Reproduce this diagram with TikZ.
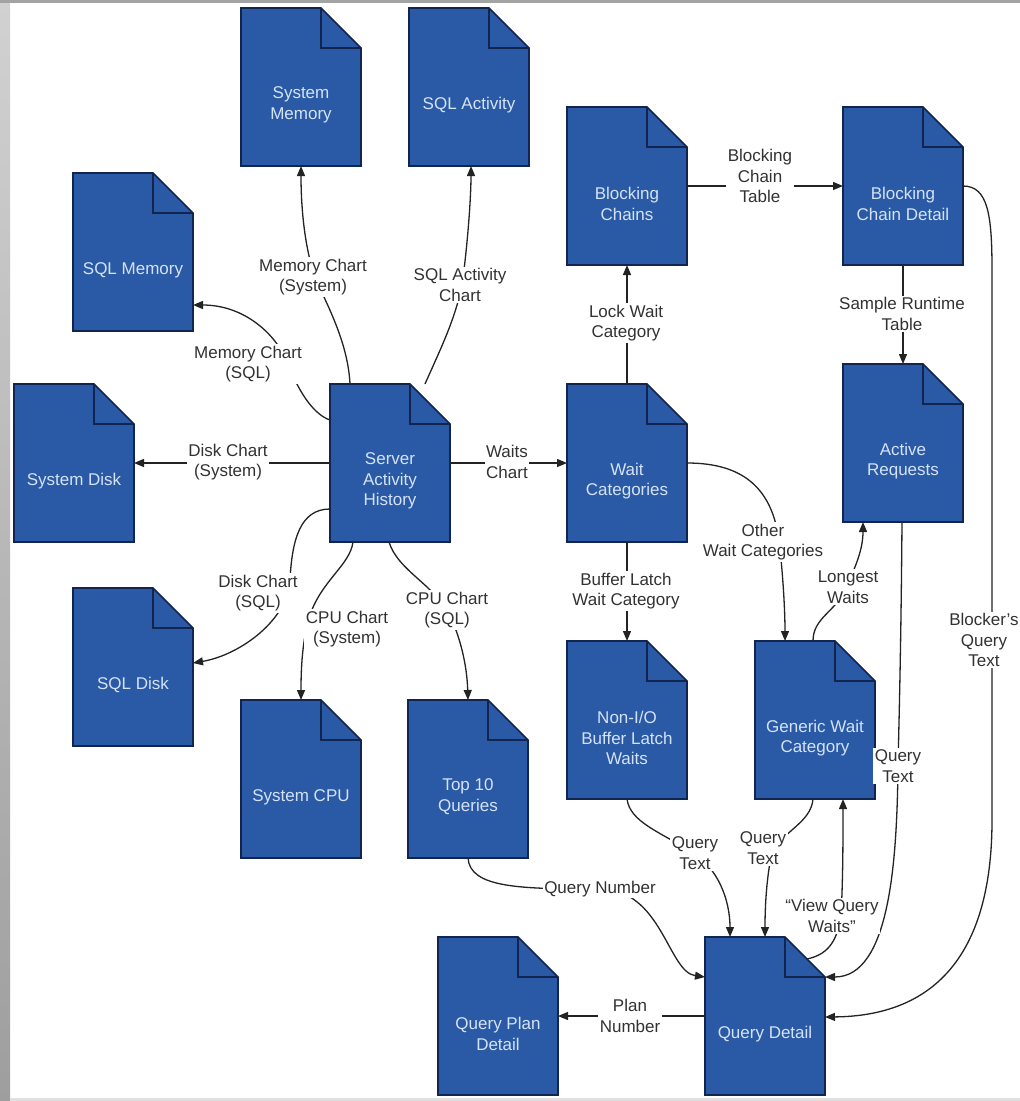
\documentclass[tikz,border=0pt]{standalone}
\usepackage{fontspec}
\setmainfont{Liberation Sans}
\usetikzlibrary{arrows.meta,backgrounds}
\definecolor{docblue}{RGB}{42,90,165}
\definecolor{docline}{RGB}{18,36,80}
\definecolor{doctxt}{RGB}{212,226,246}
\definecolor{lbltxt}{RGB}{50,50,50}
\definecolor{connc}{RGB}{35,35,35}
\tikzset{
  docbox/.style={rectangle, minimum width=120pt, minimum height=158pt, inner sep=0pt, outer sep=0pt},
  doctext/.style={text=doctxt, align=center, font=\fontsize{17}{20.7}\selectfont, inner sep=0pt},
  lbl/.style={fill=white, align=center, text=lbltxt, font=\fontsize{17}{20.7}\selectfont, inner sep=1.5pt},
  conn/.style={draw=connc, line width=1.3pt, -{Triangle[length=10pt,width=8pt]}},
}
\begin{document}
\begin{tikzpicture}[x=1pt,y=-1pt]
\useasboundingbox (0,0) rectangle (1020,1101);

% documents (centre = left+60, top+79)
\node[docbox] (sm)   at (301,87)   {};
\node[docbox] (sqa)  at (469,87)   {};
\node[docbox] (bc)   at (627,186)  {};
\node[docbox] (bcd)  at (903,186)  {};
\node[docbox] (sqm)  at (133,252)  {};
\node[docbox] (sd)   at (74,463)   {};
\node[docbox] (sah)  at (390,463)  {};
\node[docbox] (wc)   at (627,463)  {};
\node[docbox] (ar)   at (903,443)  {};
\node[docbox] (sqd)  at (133,667)  {};
\node[docbox] (nio)  at (627,720)  {};
\node[docbox] (gwc)  at (815,720)  {};
\node[docbox] (scpu) at (301,779)  {};
\node[docbox] (t10)  at (468,779)  {};
\node[docbox] (qd)   at (765,1016) {};
\node[docbox] (qpd)  at (498,1016) {};

\begin{scope}[on background layer]
  \fill[white] (0,0) rectangle (1020,1101);
  \shade[top color=black!18, bottom color=black!38] (0,0) rectangle (10,1101);
  \fill[black!36] (0,0) rectangle (1020,3);
  \fill[black!12] (10,1098) rectangle (1020,1101);
  \foreach \n in {sm,sqa,bc,bcd,sqm,sd,sah,wc,ar,sqd,nio,gwc,scpu,t10,qd,qpd}{
    \filldraw[fill=docblue, draw=docline, line width=1.6pt, line join=miter]
      (\n.north west) -- ([xshift=-40pt]\n.north east) -- ([yshift=-40pt]\n.north east)
      -- (\n.south east) -- (\n.south west) -- cycle;
    \draw[docline, line width=1.6pt]
      ([xshift=-40pt]\n.north east) -- ([xshift=-40pt,yshift=-40pt]\n.north east)
      -- ([yshift=-40pt]\n.north east);
  }
\end{scope}

% document texts
\node[doctext] (sm-t)   at ([shift={(0,18)}]sm.center)   {System\\Memory};
\node[doctext] (sqa-t)  at ([shift={(0,18)}]sqa.center)  {SQL Activity};
\node[doctext] (bc-t)   at ([shift={(0,18)}]bc.center)   {Blocking\\Chains};
\node[doctext] (bcd-t)  at ([shift={(0,18)}]bcd.center)  {Blocking\\Chain Detail};
\node[doctext] (sqm-t)  at ([shift={(0,18)}]sqm.center)  {SQL Memory};
\node[doctext] (sd-t)   at ([shift={(0,18)}]sd.center)   {System Disk};
\node[doctext] (sah-t)  at ([shift={(0,18)}]sah.center)  {Server\\Activity\\History};
\node[doctext] (wc-t)   at ([shift={(0,18)}]wc.center)   {Wait\\Categories};
\node[doctext] (ar-t)   at ([shift={(0,18)}]ar.center)   {Active\\Requests};
\node[doctext] (sqd-t)  at ([shift={(0,18)}]sqd.center)  {SQL Disk};
\node[doctext] (nio-t)  at ([shift={(0,18)}]nio.center)  {Non-I/O\\Buffer Latch\\Waits};
\node[doctext] (gwc-t)  at ([shift={(0,18)}]gwc.center)  {Generic Wait\\Category};
\node[doctext] (scpu-t) at ([shift={(0,18)}]scpu.center) {System CPU};
\node[doctext] (t10-t)  at ([shift={(0,18)}]t10.center)  {Top 10\\Queries};
\node[doctext] (qd-t)   at ([shift={(0,18)}]qd.center)   {Query Detail};
\node[doctext] (qpd-t)  at ([shift={(0,18)}]qpd.center)  {Query Plan\\Detail};

% connectors
\draw[conn] ([shift={(20,0)}]sah.north west) .. controls (348,345) and (330,310) .. (316,280) .. controls (305,250) and (301,210) .. (sm.south);
\draw[conn] ([shift={(0,36)}]sah.north west) .. controls (315,415) and (300,395) .. (288,364) .. controls (277,335) and (245,305) .. ([shift={(0,132)}]sqm.north east);
\draw[conn] ([shift={(95,0)}]sah.north west) .. controls (440,350) and (455,320) .. (462,285) .. controls (467,250) and (471,200) .. ([shift={(62,0)}]sqa.south west);
\draw[conn] (sah.west) -- (sd.east);
\draw[conn] ([shift={(0,125)}]sah.north west) .. controls (300,509) and (292,540) .. (290,580) .. controls (288,620) and (240,655) .. ([shift={(0,75)}]sqd.north east);
\draw[conn] ([shift={(23,0)}]sah.south west) .. controls (350,565) and (322,580) .. (310,615) .. controls (302,640) and (301,670) .. (scpu.north);
\draw[conn] ([shift={(59,0)}]sah.south west) .. controls (398,570) and (430,582) .. (448,612) .. controls (460,635) and (467,665) .. ([shift={(60,0)}]t10.north west);
\draw[conn] (sah.east) -- (wc.west);
\draw[conn] (wc.north) -- (bc.south);
\draw[conn] (bc.east) -- (bcd.west);
\draw[conn] (bcd.south) -- (ar.north);
\draw[conn] (wc.south) -- (nio.north);
\draw[conn] (wc.east) .. controls (745,463) and (772,490) .. (779,540) .. controls (783,575) and (785,610) .. ([shift={(30,0)}]gwc.north west);
\draw[conn] ([shift={(58,0)}]gwc.north west) .. controls (813,618) and (835,612) .. (845,590) .. controls (855,568) and (863,550) .. ([shift={(20,0)}]ar.south west);
\draw[conn] (nio.south) .. controls (630,822) and (660,832) .. (692,852) .. controls (718,868) and (730,900) .. ([shift={(25,0)}]qd.north west);
\draw[conn] ([shift={(58,0)}]gwc.south west) .. controls (811,822) and (785,830) .. (772,852) .. controls (766,880) and (765,910) .. ([shift={(60,0)}]qd.north west);
\draw[conn] ([shift={(-18,22)}]qd.north east) .. controls (825,955) and (837,945) .. (841,915) .. controls (843,880) and (843,840) .. ([shift={(88,0)}]gwc.south west);
\draw[conn] ([shift={(59,0)}]ar.south west) .. controls (901,650) and (899,720) .. (898,766) .. controls (897,860) and (890,977) .. ([shift={(0,40)}]qd.north east);
\draw[conn] (bcd.east) .. controls (988,186) and (992,215) .. (992,270) -- (992,820) .. controls (992,960) and (930,1016) .. ([shift={(0,80)}]qd.north east);
\draw[conn] (t10.south) .. controls (470,888) and (520,889) .. (600,889) .. controls (662,889) and (668,972) .. ([shift={(0,40)}]qd.north west);
\draw[conn] (qd.west) -- (qpd.east);

% connector labels
\node[lbl] (l1)  at (313,277)  {Memory Chart\\(System)};
\node[lbl] (l2)  at (248,364)  {Memory Chart\\(SQL)};
\node[lbl] (l3)  at (460,285)  {SQL Activity\\Chart};
\node[lbl] (l4)  at (228,462)  {Disk Chart\\(System)};
\node[lbl] (l5)  at (258,593)  {Disk Chart\\(SQL)};
\node[lbl] (l6)  at (347,629)  {CPU Chart\\(System)};
\node[lbl] (l7)  at (447,610)  {CPU Chart\\(SQL)};
\node[lbl] (l8)  at (507,462)  {Waits\\Chart};
\node[lbl] (l9)  at (626,323)  {Lock Wait\\Category};
\node[lbl] (l10) at (760,176)  {Blocking\\Chain\\Table};
\node[lbl] (l11) at (902,314)  {Sample Runtime\\Table};
\node[lbl] (l12) at (626,591)  {Buffer Latch\\Wait Category};
\node[lbl] (l13) at (763,542)  {Other\\Wait Categories};
\node[lbl] (l14) at (848,587)  {Longest\\Waits};
\node[lbl] (l15) at (695,853)  {Query\\Text};
\node[lbl] (l16) at (763,848)  {Query\\Text};
\node[lbl] (l17) at (832,916)  {``View Query\\Waits''};
\node[lbl] (l18) at (898,766)  {Query\\Text};
\node[lbl] (l19) at (984,640)  {Blocker's\\Query\\Text};
\node[lbl] (l20) at (600,889)  {Query Number};
\node[lbl] (l21) at (630,1016) {Plan\\Number};
\end{tikzpicture}
\end{document}
